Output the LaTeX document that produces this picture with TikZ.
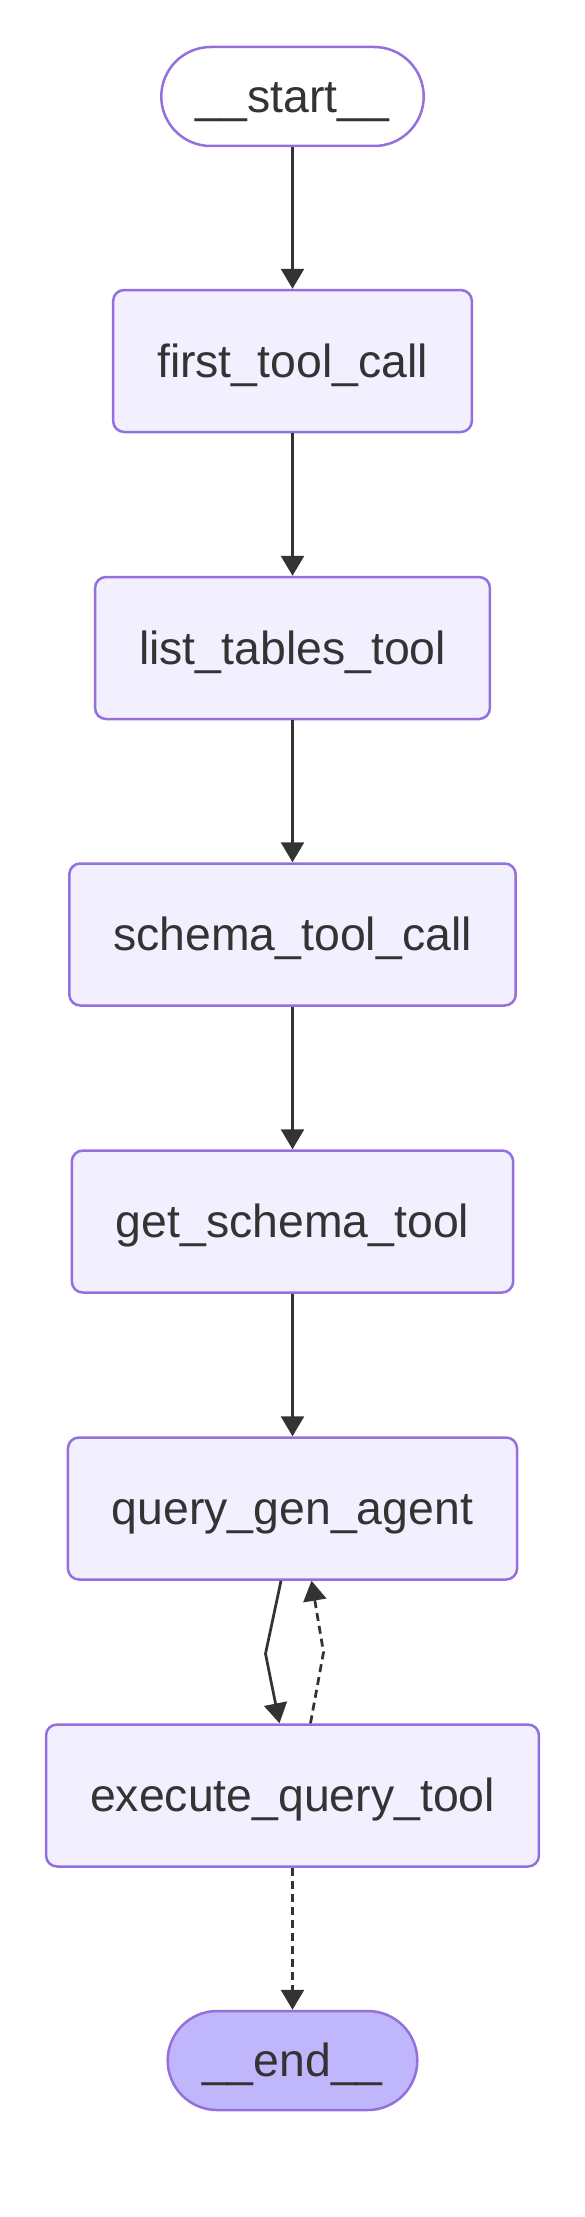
\documentclass[tikz,border=0pt]{standalone}
\usepackage{fontspec}
\setmainfont{Liberation Sans}
\usetikzlibrary{arrows.meta}

\definecolor{nodefill}{HTML}{F2F0FF}
\definecolor{nodeline}{HTML}{9370DB}
\definecolor{endfill}{HTML}{BFB6FC}
\definecolor{inkgray}{HTML}{333333}

\tikzset{
  stepbox/.style={draw=nodeline, line width=0.05cm, fill=nodefill, rounded corners=0.22cm,
    minimum height=2.84cm, inner xsep=0.88cm, text=inkgray, text height=0.9cm, text depth=0.26cm,
    font=\fontsize{26.4}{30}\selectfont},
  terminal/.style={draw=nodeline, line width=0.05cm, rounded corners=0.99cm,
    minimum height=1.98cm, inner xsep=0.69cm, text=inkgray, text height=0.9cm, text depth=0.26cm,
    font=\fontsize{26.4}{30}\selectfont},
  link/.style={draw=inkgray, line width=0.055cm, -{Triangle[width=0.46cm,length=0.4cm]}},
  optlink/.style={link, dash pattern=on 0.16cm off 0.1cm}
}

\begin{document}
\begin{tikzpicture}

\useasboundingbox (0,0) rectangle (11.7,-44.34);

% Knoten
\node[terminal] (start) at (5.85,-1.93) {\_\_start\_\_};
\node[stepbox] (ftc) at (5.85,-7.22) {first\_tool\_call};
\node[stepbox] (ltt) at (5.85,-12.96) {list\_tables\_tool};
\node[stepbox] (stc) at (5.85,-18.69) {schema\_tool\_call};
\node[stepbox] (gst) at (5.85,-24.43) {get\_schema\_tool};
\node[stepbox] (qga) at (5.85,-30.17) {query\_gen\_agent};
\node[stepbox] (eqt) at (5.85,-35.91) {execute\_query\_tool};
\node[terminal, fill=endfill] (end) at (5.85,-41.21) {\_\_end\_\_};

% Kanten
\foreach \a/\b in {start/ftc, ftc/ltt, ltt/stc, stc/gst, gst/qga}
{
\draw[link] (\a.south) -- (\b.north);
}

\draw[link] ([xshift=-0.23cm]qga.south) -- ++(-0.31,-1.46) -- ([xshift=-0.26cm]eqt.north);
\draw[optlink] ([xshift=0.36cm]eqt.north) -- ++(0.26,1.42) -- ([xshift=0.38cm]qga.south);
\draw[optlink] (eqt.south) -- (end.north);

\end{tikzpicture}
\end{document}
